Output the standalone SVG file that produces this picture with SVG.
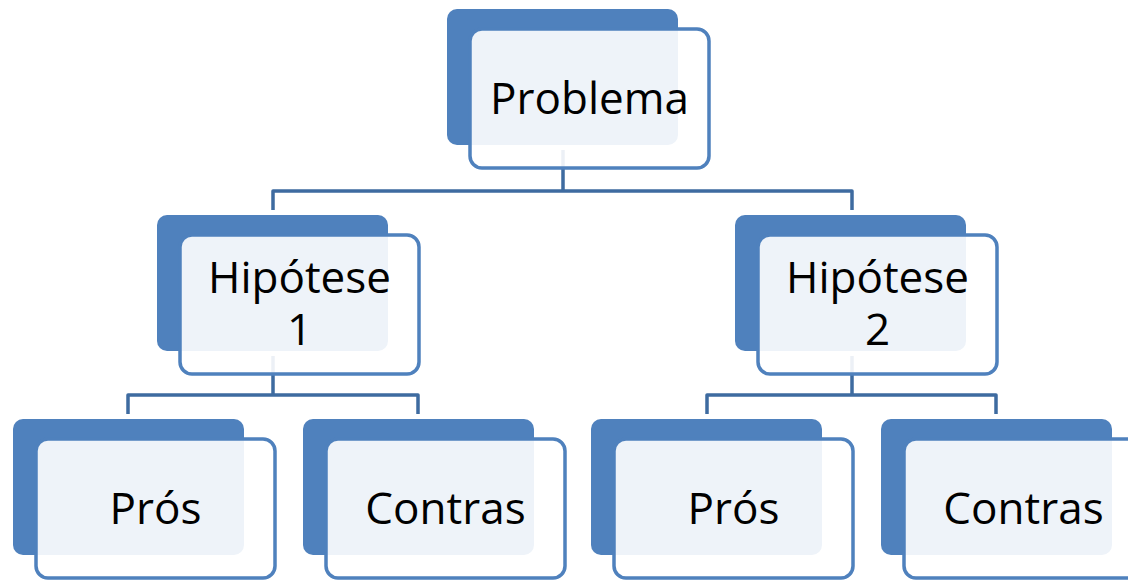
<svg xmlns="http://www.w3.org/2000/svg" width="1128" height="580" viewBox="0 0 1128 580">
<style>
.back{fill:#4F81BD;}
.front{fill:#ffffff;fill-opacity:0.9;stroke:#4F81BD;stroke-width:3.5;}
.conn{fill:none;stroke:#3E6BA0;stroke-width:3.5;stroke-linejoin:round;}
.lbl{font-family:"Open Sans","DejaVu Sans",sans-serif;font-size:44px;fill:#000;text-anchor:middle;}
</style>
<rect width="1128" height="580" fill="#ffffff"/>
<g id="connectors">
<path class="conn" d="M563,150 V191 M273,210 V191 H852 V210"/>
<path class="conn" d="M273,356 V395 M128,414 V395 H418 V414"/>
<path class="conn" d="M852,356 V395 M707,414 V395 H996 V414"/>
</g>
<g id="problema">
<rect class="back" x="447" y="9" width="231" height="136" rx="10"/>
<rect class="front" x="470" y="29" width="239" height="139" rx="12"/>
<text class="lbl" x="589.5" y="114">Problema</text>
</g>
<g id="hipotese1">
<rect class="back" x="157" y="215" width="231" height="136" rx="10"/>
<rect class="front" x="180" y="235" width="239" height="139" rx="12"/>
<text class="lbl" x="299.5" y="293">Hipótese</text>
<text class="lbl" x="299.5" y="345">1</text>
</g>
<g id="hipotese2">
<rect class="back" x="735" y="215" width="231" height="136" rx="10"/>
<rect class="front" x="758" y="235" width="239" height="139" rx="12"/>
<text class="lbl" x="877.5" y="293">Hipótese</text>
<text class="lbl" x="877.5" y="345">2</text>
</g>
<g id="pros1">
<rect class="back" x="13" y="419" width="231" height="136" rx="10"/>
<rect class="front" x="36" y="439" width="239" height="139" rx="12"/>
<text class="lbl" x="155.5" y="524">Prós</text>
</g>
<g id="contras1">
<rect class="back" x="303" y="419" width="231" height="136" rx="10"/>
<rect class="front" x="326" y="439" width="239" height="139" rx="12"/>
<text class="lbl" x="445.5" y="524">Contras</text>
</g>
<g id="pros2">
<rect class="back" x="591" y="419" width="231" height="136" rx="10"/>
<rect class="front" x="614" y="439" width="239" height="139" rx="12"/>
<text class="lbl" x="733.5" y="524">Prós</text>
</g>
<g id="contras2">
<rect class="back" x="881" y="419" width="231" height="136" rx="10"/>
<rect class="front" x="904" y="439" width="239" height="139" rx="12"/>
<text class="lbl" x="1023.5" y="524">Contras</text>
</g>
</svg>
